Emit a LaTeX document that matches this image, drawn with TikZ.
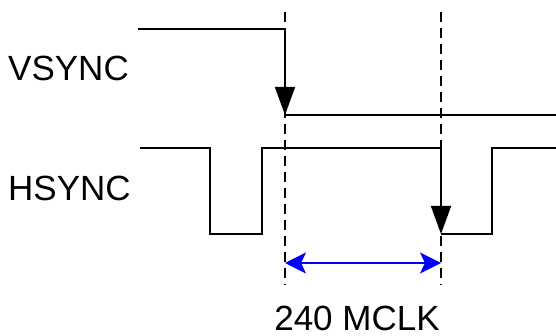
\documentclass[tikz,border=0pt]{standalone}
\usepackage{fontspec}
\setmainfont{Liberation Sans}
\usepackage{xcolor}
\usetikzlibrary{arrows.meta,calc,positioning}
\tikzset{
  sigline/.style={line width=1.6pt, draw=black, line join=miter},
  sigedge/.style={-{Triangle[length=28pt,width=20pt]}, line width=1.6pt, draw=black},
  markline/.style={line width=1.4pt, draw=black, dash pattern=on 10pt off 6pt},
  spanarrow/.style={{Stealth[length=21pt,width=21pt,inset=5pt,fill=blue]}-{Stealth[length=21pt,width=21pt,inset=5pt,fill=blue]}, line width=1.8pt, draw=blue},
  siglabel/.style={font=\fontsize{35}{40}\selectfont, inner sep=0pt}
}
\begin{document}
\begin{tikzpicture}[x=1pt,y=-1pt]
  \useasboundingbox (0,0) rectangle (556,336);
  % labels
  \node[siglabel, anchor=base west] (vsync) at (8,81) {VSYNC};
  \node[siglabel, anchor=base west] (hsync) at (8,201) {HSYNC};
  % vsync waveform
  \coordinate (vs0) at (138,29);
  \coordinate (vsfall) at (285,29);
  \coordinate (vslow) at (285,115);
  \coordinate (vsend) at (556,115);
  \draw[sigline] (vs0) -- (vsfall);
  \draw[sigedge] (vsfall) -- (vslow);
  \draw[sigline] (vslow) -- (vsend);
  % hsync waveform
  \coordinate (hs0) at (140,148);
  \coordinate (hsfall) at (441,148);
  \coordinate (hslow) at (441,234);
  \coordinate (hsend) at (556,148);
  \draw[sigline] (hs0) -- (210,148) -- (210,234) -- (262,234) -- (262,148) -- (hsfall);
  \draw[sigedge] (hsfall) -- (hslow);
  \draw[sigline] (hslow) -- (492,234) -- (492,148) -- (hsend);
  % markers
  \coordinate (mk1t) at (285,12);
  \coordinate (mk1b) at (285,285);
  \coordinate (mk2t) at (441,12);
  \coordinate (mk2b) at (441,285);
  \draw[markline] (mk1t) -- (mk1b);
  \draw[markline] (mk2t) -- (mk2b);
  \coordinate (spanl) at (285,263);
  \coordinate (spanr) at (441,263);
  \draw[spanarrow] (spanl) -- (spanr);
  \node[siglabel, anchor=base] (mclk) at (357,330) {240 MCLK};
\end{tikzpicture}
\end{document}
